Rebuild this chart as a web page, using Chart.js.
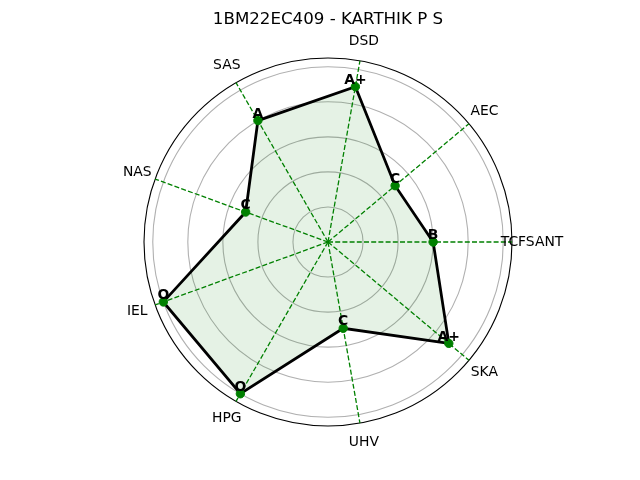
<!DOCTYPE html>
<html>
<head>
<meta charset="utf-8">
<script src="https://cdn.jsdelivr.net/npm/chart.js@4.4.0/dist/chart.umd.min.js"></script>
<style>
  html, body { margin: 0; padding: 0; background: #fff; }
  #wrap { width: 640px; height: 480px; }
</style>
</head>
<body>
<div id="wrap"><canvas id="c" width="640" height="480"></canvas></div>
<script>
// Subjects, counter-clockwise from the right (as in the reference)
const subjects = ['TCFSANT', 'AEC', 'DSD', 'SAS', 'NAS', 'IEL', 'HPG', 'UHV', 'SKA'];
const grades   = ['B', 'C', 'A+', 'A', 'C', 'O', 'O', 'C', 'A+'];
const points   = [6, 5, 9, 8, 5, 10, 10, 5, 9];
const radialTicks = [0, 2, 4, 6, 8, 10, 10.5];
const rMax = 10.5;
const titleText = '1BM22EC409 - KARTHIK P S';

// Chart.js radar runs clockwise; reverse (keeping first) to get counter-clockwise order
const reorder = arr => [arr[0], ...arr.slice(1).reverse()];
const labels = reorder(subjects);
const gradeLabels = reorder(grades);
const values = reorder(points);

Chart.defaults.font.family = 'DejaVu Sans';
Chart.defaults.color = '#000';

const textPlugin = {
  id: 'textPlugin',
  afterDatasetsDraw(chart) {
    const ctx = chart.ctx;
    const scale = chart.scales.r;
    ctx.save();
    // Category labels, centered around a circle just outside the outer edge
    ctx.font = '13.9px "DejaVu Sans"';
    ctx.fillStyle = '#000';
    ctx.textAlign = 'center';
    ctx.textBaseline = 'middle';
    const labelDist = scale.drawingArea + 19.5;
    labels.forEach((lab, i) => {
      const p = scale.getPointPosition(i, labelDist);
      ctx.fillText(lab, p.x + 0.5, p.y);
    });
    // Grade annotations above each point
    ctx.font = 'bold 13.9px "DejaVu Sans"';
    ctx.textBaseline = 'bottom';
    const meta = chart.getDatasetMeta(0);
    meta.data.forEach((el, i) => {
      ctx.fillText(gradeLabels[i], el.x, el.y + 0.5);
    });
    ctx.restore();
  }
};

new Chart(document.getElementById('c'), {
  type: 'radar',
  data: {
    labels: labels,
    datasets: [{
      data: values,
      borderColor: '#000',
      borderWidth: 2.78,
      backgroundColor: 'rgba(0,128,0,0.1)',
      fill: true,
      pointRadius: 4.2,
      pointHoverRadius: 4.2,
      pointBackgroundColor: '#008000',
      pointBorderColor: '#008000',
      pointBorderWidth: 1,
      tension: 0
    }]
  },
  options: {
    responsive: false,
    animation: false,
    devicePixelRatio: 1,
    layout: { padding: { left: 143, right: 127, top: 0, bottom: 53 } },
    plugins: {
      legend: { display: false },
      tooltip: { enabled: false },
      title: {
        display: true,
        text: titleText,
        color: '#000',
        font: { size: 16.67, weight: 'normal', family: 'DejaVu Sans' },
        padding: { top: 10, bottom: 27 }
      }
    },
    scales: {
      r: {
        min: 0,
        max: rMax,
        startAngle: 90,
        afterBuildTicks(scale) {
          scale.ticks = radialTicks.map(v => ({ value: v }));
        },
        ticks: { display: false },
        grid: {
          circular: true,
          color: ctx => (ctx.tick && ctx.tick.value >= rMax) ? '#000' : '#b0b0b0',
          lineWidth: 1.1
        },
        angleLines: {
          display: true,
          color: '#008000',
          lineWidth: 1.3,
          borderDash: [5, 2.2]
        },
        pointLabels: { display: false }
      }
    }
  },
  plugins: [textPlugin]
});
</script>
</body>
</html>
